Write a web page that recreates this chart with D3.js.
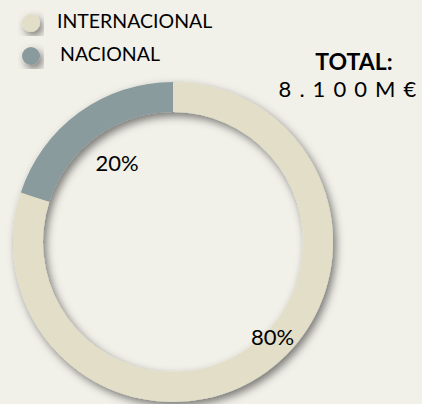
<!DOCTYPE html>
<html>
<head>
<meta charset="utf-8">
<script src="https://cdn.jsdelivr.net/npm/d3@7"></script>
<style>
  body { margin: 0; background: #f1f0e9; }
  svg { display: block; font-family: Lato, "Open Sans", sans-serif; }
</style>
</head>
<body>
<div id="container"></div>
<script>
const categories = ["INTERNACIONAL", "NACIONAL"];
const values = [80, 20];
const labels = ["80%", "20%"];
const colors = ["#e2dec8", "#8a9b9e"];
const totalLines = ["TOTAL:", "8.100M€"];

const width = 422, height = 404;
const cx = 173, cy = 242;
const outerR = 160, innerR = 130;

let svg = d3.select("#container")
  .append("svg")
  .attr("width", width)
  .attr("height", height);

svg.append("rect")
  .attr("width", width)
  .attr("height", height)
  .attr("fill", "#f1f0e9");

// soft shadow like the excel one
let defs = svg.append("defs");
let shadow = defs.append("filter")
  .attr("id", "shadow")
  .attr("x", "-20%").attr("y", "-20%")
  .attr("width", "140%").attr("height", "140%");
shadow.append("feDropShadow")
  .attr("dx", 3)
  .attr("dy", 4)
  .attr("stdDeviation", 4)
  .attr("flood-color", "#000")
  .attr("flood-opacity", 0.5);

let data = categories.map((c, i) => ({ name: c, value: values[i], label: labels[i], color: colors[i] }));

let pie = d3.pie()
  .sort(null)
  .value(d => d.value)
  .startAngle(0)
  .endAngle(2 * Math.PI);

let arc = d3.arc().innerRadius(innerR).outerRadius(outerR);

let ring = svg.append("g")
  .attr("transform", `translate(${cx},${cy})`)
  .attr("filter", "url(#shadow)");

let arcs = pie(data);

ring.selectAll("path")
  .data(arcs)
  .join("path")
  .attr("d", arc)
  .attr("fill", d => d.data.color);

// labels: small one sits inside the hole, big one on the ring
let labelPos = (d, i) => {
  let a = (d.startAngle + d.endAngle) / 2;
  let r = 97;
  if (i === 0) { a = a - 10 * Math.PI / 180; r = 137; }
  return [Math.sin(a) * r, -Math.cos(a) * r];
};

svg.append("g")
  .attr("transform", `translate(${cx},${cy})`)
  .selectAll("text")
  .data(arcs)
  .join("text")
  .attr("x", (d, i) => labelPos(d, i)[0] + 1)
  .attr("y", (d, i) => labelPos(d, i)[1] - 1)
  .attr("text-anchor", "middle")
  .attr("dominant-baseline", "central")
  .attr("font-size", 22)
  .attr("fill", "#000")
  .text(d => d.data.label);

// legend
let legend = svg.append("g");
let legendY = d3.scalePoint().domain(categories).range([23, 56]);

legend.selectAll("circle")
  .data(data)
  .join("circle")
  .attr("cx", 31)
  .attr("cy", d => legendY(d.name))
  .attr("r", 9)
  .attr("fill", d => d.color)
  .attr("filter", "url(#shadow)");

legend.selectAll("text")
  .data(data)
  .join("text")
  .attr("x", (d, i) => i === 0 ? 57 : 60)
  .attr("y", d => legendY(d.name) + 5)
  .attr("font-size", 19.5)
  .attr("fill", "#000")
  .text(d => d.name);

// total box
svg.append("text")
  .attr("x", 354)
  .attr("y", 70)
  .attr("text-anchor", "middle")
  .attr("font-size", 23)
  .attr("font-weight", "bold")
  .text(totalLines[0]);

svg.append("text")
  .attr("x", 348)
  .attr("y", 97)
  .attr("text-anchor", "middle")
  .attr("font-size", 22)
  .attr("letter-spacing", "1.2px")
  .text(totalLines[1].split("").join(" "));
</script>
</body>
</html>
